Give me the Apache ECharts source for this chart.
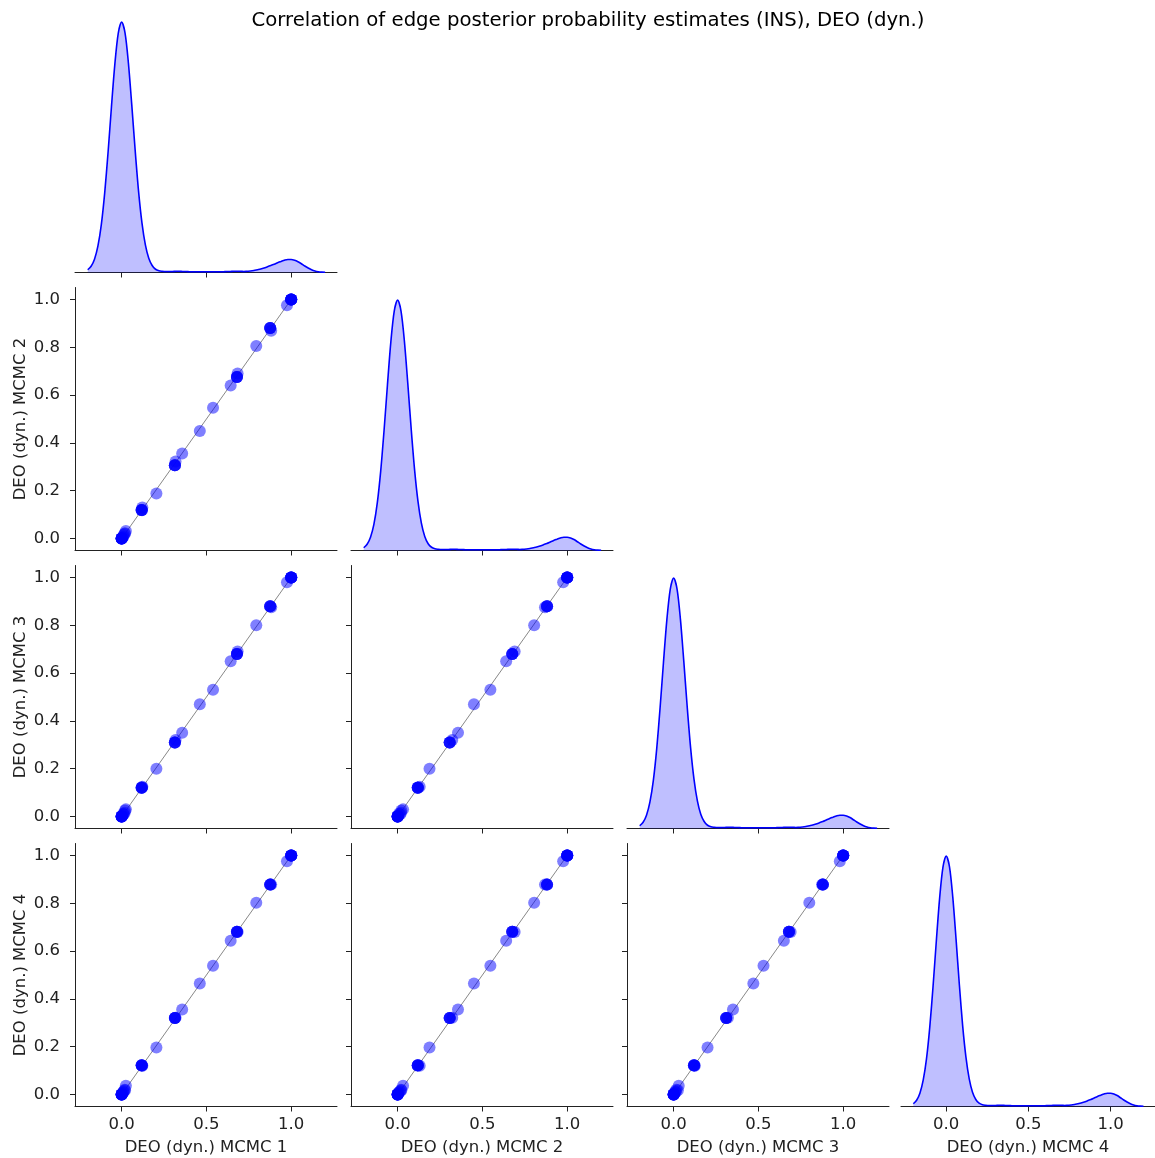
<!DOCTYPE html>
<html lang="en">
<head>
<meta charset="UTF-8">
<title>Correlation of edge posterior probability estimates</title>
<script src="https://cdn.jsdelivr.net/npm/echarts@6/dist/echarts.min.js"></script>
<style>
    html, body {margin:0; padding:0; background:#fff}
    #main {width:1155px; height:1158px}
</style>
</head>
<body>
<div id="main"></div>
<script>
// chain names (axis titles)
var chains = ['DEO (dyn.) MCMC 1', 'DEO (dyn.) MCMC 2', 'DEO (dyn.) MCMC 3', 'DEO (dyn.) MCMC 4'];
var title = 'Correlation of edge posterior probability estimates (INS), DEO (dyn.)';

// edge posterior probabilities, one entry per edge, same order in every chain
var mcmc1 = [0, 0, 0, 0, 0, 0, 0, 0, 0.005, 0.01, 0.012, 0.018, 0.02, 0.025,
    0.118, 0.118, 0.118, 0.118, 0.12, 0.122, 0.205, 0.314, 0.314, 0.314, 0.314, 0.318, 0.357, 0.461, 0.539, 0.643,
    0.68, 0.68, 0.68, 0.68, 0.684, 0.794, 0.876, 0.876, 0.876, 0.876, 0.882, 0.975, 1, 1, 1, 1, 1, 1, 1];
var mcmc2 = [0, 0, 0, 0, 0, 0, 0, 0, 0.003, 0.008, 0.015, 0.02, 0.022, 0.032,
    0.119, 0.119, 0.119, 0.119, 0.118, 0.13, 0.188, 0.307, 0.307, 0.307, 0.307, 0.322, 0.356, 0.45, 0.547, 0.64,
    0.676, 0.676, 0.676, 0.676, 0.69, 0.805, 0.881, 0.881, 0.881, 0.881, 0.869, 0.976, 1, 1, 1, 1, 1, 1, 1];
var mcmc3 = [0, 0, 0, 0, 0, 0, 0, 0, 0.004, 0.012, 0.01, 0.016, 0.025, 0.03,
    0.12, 0.12, 0.12, 0.12, 0.122, 0.125, 0.2, 0.31, 0.31, 0.31, 0.31, 0.32, 0.35, 0.47, 0.53, 0.65,
    0.68, 0.68, 0.68, 0.68, 0.69, 0.8, 0.88, 0.88, 0.88, 0.88, 0.875, 0.98, 1, 1, 1, 1, 1, 1, 1];
var mcmc4 = [0, 0, 0, 0, 0, 0, 0, 0, 0.006, 0.01, 0.014, 0.02, 0.018, 0.037,
    0.123, 0.123, 0.123, 0.123, 0.12, 0.12, 0.197, 0.32, 0.32, 0.32, 0.32, 0.321, 0.356, 0.464, 0.539, 0.643,
    0.681, 0.681, 0.681, 0.681, 0.68, 0.802, 0.878, 0.878, 0.878, 0.878, 0.878, 0.976, 1, 1, 1, 1, 1, 1, 1];

// density curves on the diagonal (scaled so the main peak is 1)
var kdeX = [-0.2, -0.18, -0.16, -0.14, -0.12, -0.1, -0.08, -0.06, -0.04, -0.02,
    0, 0.02, 0.04, 0.06, 0.08, 0.1, 0.12, 0.14, 0.16, 0.18,
    0.2, 0.22, 0.24, 0.26, 0.28, 0.3, 0.32, 0.34, 0.36, 0.38,
    0.4, 0.42, 0.44, 0.46, 0.48, 0.5, 0.52, 0.54, 0.56, 0.58,
    0.6, 0.62, 0.64, 0.66, 0.68, 0.7, 0.72, 0.74, 0.76, 0.78,
    0.8, 0.82, 0.84, 0.86, 0.88, 0.9, 0.92, 0.94, 0.96, 0.98,
    1, 1.02, 1.04, 1.06, 1.08, 1.1, 1.12, 1.14, 1.16, 1.18, 1.2];
var kde1 = [0.011, 0.025, 0.053, 0.105, 0.19, 0.317, 0.48, 0.662, 0.832, 0.955,
    1.0, 0.957, 0.836, 0.667, 0.486, 0.323, 0.197, 0.11, 0.057, 0.028,
    0.013, 0.007, 0.005, 0.004, 0.004, 0.004, 0.005, 0.005, 0.004, 0.004,
    0.003, 0.003, 0.003, 0.003, 0.003, 0.003, 0.003, 0.003, 0.003, 0.003,
    0.003, 0.004, 0.004, 0.005, 0.005, 0.005, 0.004, 0.005, 0.006, 0.008,
    0.011, 0.014, 0.018, 0.023, 0.028, 0.033, 0.039, 0.044, 0.049, 0.052,
    0.052, 0.049, 0.043, 0.035, 0.026, 0.018, 0.011, 0.006, 0.003, 0.0015, 0.001];
var kde2 = [0.011, 0.025, 0.053, 0.104, 0.19, 0.316, 0.48, 0.662, 0.833, 0.956,
    1.0, 0.956, 0.835, 0.666, 0.485, 0.322, 0.196, 0.109, 0.056, 0.027,
    0.013, 0.007, 0.005, 0.004, 0.004, 0.004, 0.005, 0.005, 0.004, 0.004,
    0.003, 0.003, 0.003, 0.003, 0.003, 0.003, 0.003, 0.003, 0.003, 0.003,
    0.003, 0.004, 0.004, 0.005, 0.005, 0.005, 0.004, 0.005, 0.006, 0.008,
    0.011, 0.014, 0.018, 0.023, 0.028, 0.034, 0.04, 0.045, 0.05, 0.053,
    0.053, 0.05, 0.044, 0.035, 0.026, 0.018, 0.011, 0.006, 0.003, 0.0015, 0.001];
var kde3 = [0.011, 0.025, 0.053, 0.105, 0.19, 0.317, 0.481, 0.663, 0.833, 0.955,
    1.0, 0.957, 0.836, 0.667, 0.486, 0.323, 0.197, 0.11, 0.057, 0.028,
    0.013, 0.007, 0.005, 0.004, 0.004, 0.004, 0.005, 0.005, 0.004, 0.004,
    0.003, 0.003, 0.003, 0.003, 0.003, 0.003, 0.003, 0.003, 0.003, 0.003,
    0.003, 0.004, 0.004, 0.005, 0.005, 0.005, 0.004, 0.005, 0.006, 0.008,
    0.011, 0.014, 0.018, 0.023, 0.028, 0.034, 0.04, 0.045, 0.05, 0.053,
    0.053, 0.05, 0.044, 0.035, 0.026, 0.018, 0.011, 0.006, 0.003, 0.0015, 0.001];
var kde4 = [0.011, 0.025, 0.053, 0.105, 0.19, 0.317, 0.48, 0.662, 0.832, 0.955,
    1.0, 0.957, 0.836, 0.667, 0.486, 0.323, 0.197, 0.11, 0.057, 0.028,
    0.013, 0.007, 0.005, 0.004, 0.004, 0.004, 0.005, 0.005, 0.004, 0.004,
    0.003, 0.003, 0.003, 0.003, 0.003, 0.003, 0.003, 0.003, 0.003, 0.003,
    0.003, 0.004, 0.004, 0.005, 0.005, 0.005, 0.004, 0.005, 0.006, 0.008,
    0.011, 0.014, 0.018, 0.023, 0.028, 0.034, 0.04, 0.045, 0.05, 0.053,
    0.053, 0.05, 0.044, 0.035, 0.026, 0.018, 0.011, 0.006, 0.003, 0.0015, 0.001];

// tick labels
var xTicks = [0, 0.5, 1.0];
var yTicks = [0, 0.2, 0.4, 0.6, 0.8, 1.0];

var chainVals = [mcmc1, mcmc2, mcmc3, mcmc4];
var kdes = [kde1, kde2, kde3, kde4];

// layout of the panel grid
var colLeft = [75, 351, 627, 901];
var rowTop = [9.5, 287.5, 565.5, 843.5];
var cellW = 262, cellH = 263;
var xMin = -0.275, xMax = 1.27;
var ink = '#222';
var font = 'DejaVu Sans';
var fs = 16.5;

var grids = [], xAxes = [], yAxes = [], series = [];

var all = mcmc1.concat(mcmc2, mcmc3, mcmc4);
var lo = Math.min.apply(null, all), hi = Math.max.apply(null, all);

function fmt(v) { return Number(v).toFixed(1); }

for (var i = 0; i < 4; i++) {
    for (var j = 0; j <= i; j++) {
        var g = grids.length;
        grids.push({left: colLeft[j], top: rowTop[i], width: cellW, height: cellH});
        xAxes.push({
            type: 'value', gridIndex: g, min: xMin, max: xMax,
            axisLine: {show: true, onZero: false, lineStyle: {color: ink, width: 1}},
            axisTick: {show: true, length: 5, customValues: xTicks, lineStyle: {color: ink, width: 1}},
            axisLabel: {show: i === 3, customValues: xTicks, formatter: fmt, margin: 10,
                color: ink, fontSize: fs, fontFamily: font},
            splitLine: {show: false},
            name: i === 3 ? chains[j] : '',
            nameLocation: 'middle', nameGap: 33,
            nameTextStyle: {color: ink, fontSize: fs, fontFamily: font}
        });
        if (i === j) {
            yAxes.push({type: 'value', gridIndex: g, min: 0, max: 1.05, show: false});
            series.push({
                type: 'line', xAxisIndex: g, yAxisIndex: g,
                data: kdeX.map(function (x, k) { return [x, kdes[j][k]]; }),
                showSymbol: false, smooth: 0.3,
                lineStyle: {color: '#0000ff', width: 1.6},
                areaStyle: {color: 'rgba(0,0,255,0.25)', opacity: 1},
                silent: true
            });
        } else {
            yAxes.push({
                type: 'value', gridIndex: g, min: -0.05, max: 1.05,
                axisLine: {show: true, onZero: false, lineStyle: {color: ink, width: 1}},
                axisTick: {show: true, length: 5, customValues: yTicks, lineStyle: {color: ink, width: 1}},
                axisLabel: {show: j === 0, customValues: yTicks, formatter: fmt, margin: 15,
                    color: ink, fontSize: fs, fontFamily: font},
                splitLine: {show: false},
                name: j === 0 ? chains[i] : '',
                nameLocation: 'middle', nameGap: 46, nameRotate: 90,
                nameTextStyle: {color: ink, fontSize: fs, fontFamily: font}
            });
            series.push({
                type: 'line', xAxisIndex: g, yAxisIndex: g,
                data: [[lo, lo], [hi, hi]],
                showSymbol: false,
                lineStyle: {color: '#888', width: 1},
                silent: true, z: 1
            });
            series.push({
                type: 'scatter', xAxisIndex: g, yAxisIndex: g,
                data: chainVals[j].map(function (v, k) { return [v, chainVals[i][k]]; }),
                symbolSize: 12,
                itemStyle: {color: 'rgba(0,0,255,0.5)', opacity: 1},
                z: 2
            });
        }
    }
}

var chart = echarts.init(document.getElementById('main'));
chart.setOption({
    animation: false,
    backgroundColor: '#fff',
    textStyle: {fontFamily: font},
    graphic: [{
        type: 'text', x: 588, y: 21,
        style: {text: title, fill: '#000', fontSize: 19.7, fontFamily: font,
            textAlign: 'center', textVerticalAlign: 'middle'}
    }],
    grid: grids,
    xAxis: xAxes,
    yAxis: yAxes,
    series: series
});
</script>
</body>
</html>
